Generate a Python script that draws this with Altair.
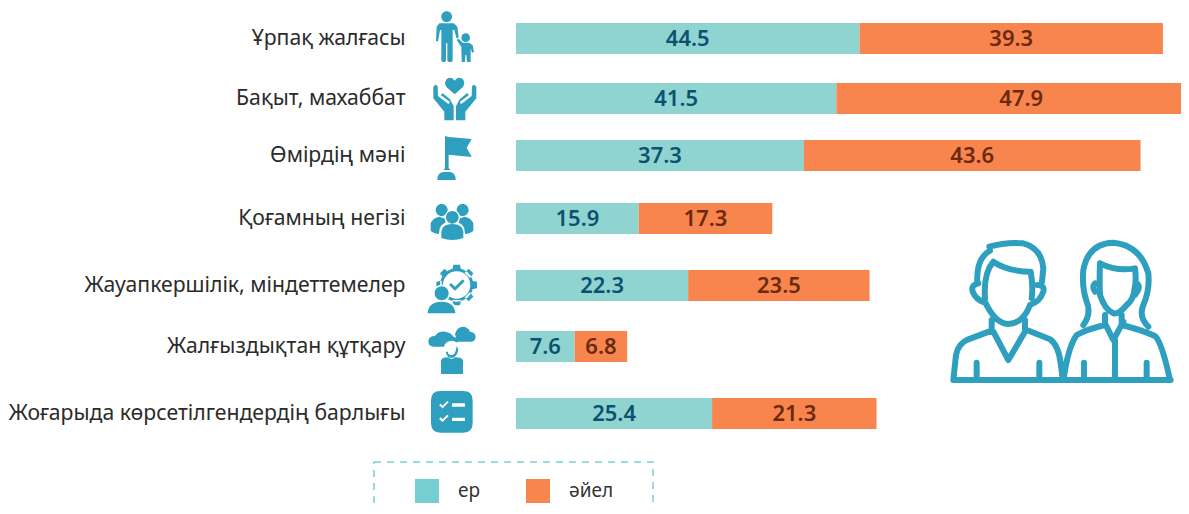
import json, re
import altair as alt
import pandas as pd

categories = ["Ұрпақ жалғасы", "Бақыт, махаббат", "Өмірдің мәні", "Қоғамның негізі",
              "Жауапкершілік, міндеттемелер", "Жалғыздықтан құтқару",
              "Жоғарыда көрсетілгендердің барлығы"]
men = [44.5, 41.5, 37.3, 15.9, 22.3, 7.6, 25.4]
women = [39.3, 47.9, 43.6, 17.3, 23.5, 6.8, 21.3]
series = ["ер", "әйел"]

row_range = [30.5, 90.5, 147.5, 210.5, 277.5, 338.5, 405.5]
FONT = "Noto Sans"
TEAL = "#2E9FBF"
VIEW_W = 665


def shift(d, ox, oy):
    i = [0]
    def rep(m):
        v = float(m.group(0)) - (ox if i[0] % 2 == 0 else oy)
        i[0] += 1
        return f"{v:g}"
    return re.sub(r"-?\d+\.?\d*", rep, d)


def circle(cx, cy, r):
    k = 0.5523 * r
    return (f"M{cx-r} {cy} C{cx-r} {cy-k} {cx-k} {cy-r} {cx} {cy-r} "
            f"C{cx+k} {cy-r} {cx+r} {cy-k} {cx+r} {cy} "
            f"C{cx+r} {cy+k} {cx+k} {cy+r} {cx} {cy+r} "
            f"C{cx-k} {cy+r} {cx-r} {cy+k} {cx-r} {cy} Z ")


def poly(*pts):
    return "M" + " L".join(f"{x} {y}" for x, y in pts) + " Z "


def mirror(pts, total):
    return [(total - x, y) for x, y in pts]


def gear_teeth():
    # teeth of the cog icon, listed as squares around its hub
    return (poly((160, 44), (180, 44), (183, 60), (157, 60)) +
            poly((160, 166), (180, 166), (183, 150), (157, 150)) +
            poly((109, 95), (109, 115), (125, 118), (125, 92)) +
            poly((231, 95), (231, 115), (215, 118), (215, 92)) +
            poly((120, 70), (134, 56), (146, 68), (130, 84)) +
            poly((220, 70), (206, 56), (194, 68), (210, 84)) +
            poly((206, 154), (220, 140), (210, 126), (194, 142)))


hand_outer = [(100, 260), (106, 254), (113, 258), (114, 288), (145, 312), (150, 306), (122, 285),
              (128, 280), (150, 298), (161, 318), (161, 361), (133, 361), (133, 335), (100, 295)]

back = [
    circle(140, 50, 16) + circle(197, 113, 13) +
    poly((118, 70), (162, 70), (172, 80), (176, 112), (170, 116), (163, 90), (158, 90), (158, 182),
         (154, 186), (146, 186), (142, 182), (142, 130), (138, 130), (138, 182), (134, 186),
         (128, 186), (124, 182), (124, 90), (120, 90), (114, 125), (108, 122), (110, 80)) +
    poly((170, 120), (176, 116), (188, 128), (207, 128), (218, 136), (222, 156), (216, 158),
         (212, 145), (212, 186), (201, 186), (199, 165), (196, 165), (195, 186), (185, 186),
         (184, 140)),
    "M164 283 L140 262 Q130 250 140 237 Q155 228 164 242 Q173 228 188 237 Q198 250 188 262 Z " +
    poly(*hand_outer) + poly(*mirror(hand_outer, 329)),
    poly((135, 408), (146, 411), (215, 417), (200, 443), (215, 471), (146, 464), (146, 505),
         (152, 510), (130, 510), (135, 505)) +
    "M112 540 Q112 518 130 516 L150 516 Q167 518 167 540 Z ",
    circle(125, 630, 18) + circle(188, 630, 18) +
    "M92 693 L92 672 Q95 655 118 650 L136 656 L136 668 Q118 675 118 695 L116 703 Q100 700 92 693 Z " +
    "M220 693 L220 672 Q217 655 194 650 L176 656 L176 668 Q194 675 194 695 L196 703 Q212 700 220 693 Z ",
    circle(170, 105, 50) + gear_teeth(),
    "M100 290 Q84 288 85 273 Q87 258 105 258 Q115 243 135 245 Q155 248 160 260 Q172 262 172 275 "
    "Q170 290 155 290 Z "
    "M165 253 Q170 230 190 230 Q205 232 210 245 Q226 247 227 260 Q226 275 212 275 L172 275 Z ",
    "M121 423 L190 423 Q218 423 218 451 L218 520 Q218 548 190 548 L121 548 Q93 548 93 520 "
    "L93 451 Q93 423 121 423 Z ",
]
gap = [
    "", "", "",
    circle(157, 652, 23),
    circle(170, 105, 41) + circle(125, 130, 26) + "M76 195 Q78 150 125 150 Q172 150 174 195 Z ",
    circle(155, 296, 24),
    poly((117, 466), (122, 461), (128, 467), (142, 453), (146, 457), (128, 475)) +
    poly((117, 507), (122, 502), (128, 508), (142, 494), (146, 498), (128, 516)) +
    poly((156, 460), (195, 460), (195, 470), (156, 470)) +
    poly((156, 503), (195, 503), (195, 513), (156, 513)),
]
front = [
    "", "", "",
    circle(157, 652, 19) +
    "M124 714 L124 695 Q126 672 157 672 Q188 672 190 695 L190 714 Q157 726 124 714 Z ",
    poly((147, 105), (153, 99), (165, 110), (188, 88), (194, 94), (165, 122)) +
    circle(125, 130, 21) + "M83 190 Q85 155 125 155 Q163 155 166 190 Z ",
    "M137 305 Q140 322 155 324 Q172 322 175 298 L170 288 Q167 315 155 316 Q145 315 143 305 Z "
    "M123 372 L123 332 Q125 322 145 322 Q155 332 165 322 Q187 322 189 332 L189 372 Z ",
    "",
]
centres = [(165, 115.5), (165, 295.5), (165, 466.5), (165, 655.5), (165, 106.5), (165, 289.5), (165, 490.5)]


def shapes(lst):
    out = []
    for d, (ox, oy) in zip(lst, centres):
        out.append(shift(d, ox, oy) if d else "M0 0 Z")
    return out


people = (
    "M40 450 L692 450 "
    "M40 450 L48 375 Q55 340 85 328 L155 302 L155 270 "
    "M255 270 L255 298 L330 328 Q355 345 362 400 L368 445 "
    "M160 305 L205 390 L258 300 M110 398 L110 445 M298 398 L298 445 "
    "M148 50 Q200 35 250 40 Q305 55 310 115 L306 155 M150 62 Q108 85 112 160 "
    "M115 160 Q92 165 98 185 Q108 210 135 218 M292 165 Q315 165 310 185 Q300 215 270 225 "
    "M135 205 Q130 130 160 95 Q205 125 272 125 Q280 170 275 205 "
    "M135 215 Q165 280 205 282 Q250 280 270 225 "
    "M372 440 Q385 350 410 315 Q440 298 495 285 L495 255 "
    "M545 255 L545 285 Q600 298 645 318 Q665 335 690 450 "
    "M430 285 Q455 250 440 215 Q425 170 430 120 Q445 40 520 38 Q600 45 625 130 Q630 180 610 225 "
    "Q595 260 625 290 "
    "M480 100 Q530 125 585 115 Q590 150 583 180 Q580 210 560 225 Q535 255 520 250 Q495 240 480 195 "
    "Q478 150 480 100 "
    "M465 160 Q455 170 465 185 M590 160 Q605 170 585 195 "
    "M495 280 L520 330 L550 275 M525 330 L525 445 M432 398 L432 445 M620 398 L620 445"
)

rows = []
for i, c in enumerate(categories):
    rows.append({"row": i, "cat": c, "s": series[0], "o": 0, "v": men[i]})
    rows.append({"row": i, "cat": c, "s": series[1], "o": 1, "v": women[i]})
df = pd.DataFrame(rows)
icons = pd.DataFrame({"row": list(range(7)), "cat": categories})

xs = alt.Scale(domain=[0, VIEW_W / 7.72], range=[0, VIEW_W], nice=False, zero=False, padding=0)
ys = alt.Scale(domain=list(range(7)), range=row_range, nice=False, zero=False, padding=0)
Y = alt.Y("row:Q", scale=ys, axis=alt.Axis(
    values=list(range(7)), title=None, ticks=False, domain=False, grid=False, labelPadding=111,
    labelFont=FONT, labelFontSize=21.2, labelColor="#2B2B2B", labelLimit=500, labelOverlap=False,
    labelExpr=f"{json.dumps(categories, ensure_ascii=False)}[datum.value]"))

stack = alt.Chart(df).transform_stack(stack="v", groupby=["row"], sort=[alt.SortField("o")], as_=["a", "b"])

bars = stack.mark_bar(height=31, clip=True).encode(
    x=alt.X("a:Q", scale=xs, axis=None), x2="b:Q", y=Y,
    color=alt.Color("s:N", scale=alt.Scale(domain=series, range=["#8FD4D0", "#F8854D"]), legend=None))

labels = stack.transform_calculate(c="(datum.a+datum.b)/2").mark_text(
    font=FONT, fontSize=22, fontWeight=600).encode(
    x=alt.X("c:Q", scale=xs, axis=None), y=Y, text=alt.Text("v:Q", format=".1f"),
    color=alt.Color("s:N", scale=alt.Scale(domain=series, range=["#0B5270", "#6B2A0F"]), legend=None))


def icon_layer(lst, color):
    return alt.Chart(icons).mark_point(filled=True, opacity=1, size=4 / 9, color=color, strokeWidth=0).encode(
        x=alt.value(455 - 516), y=Y,
        shape=alt.Shape("cat:N", scale=alt.Scale(domain=categories, range=shapes(lst)), legend=None))


box = alt.Chart(icons.head(1)).mark_rect(
    filled=False, stroke="#7AD0D4", strokeWidth=1.5, strokeDash=[7, 6]).encode(
    x=alt.value(374 - 516), x2=alt.value(653 - 516), y=alt.value(462 - 8), y2=alt.value(540))

big = alt.Chart(icons.head(1)).mark_point(
    filled=False, opacity=1, size=4 / 9, shape=people, stroke=TEAL, strokeWidth=6,
    strokeCap="round", strokeJoin="round").encode(
    x=alt.value(940 - 516), y=alt.value(230 - 8))

legend_layer = alt.Chart(df).transform_filter("false").mark_square(opacity=1).encode(
    color=alt.Color("s:N", scale=alt.Scale(domain=series, range=["#76CED3", "#F8854D"]),
                    title=None,
                    legend=alt.Legend(orient="none", legendX=415 - 516, legendY=479 - 8,
                                      direction="horizontal", symbolType="square", symbolSize=576,
                                      symbolStrokeWidth=0, labelFont=FONT, labelFontSize=19,
                                      labelColor="#333333", labelOffset=19, columnPadding=45,
                                      padding=0, symbolOpacity=1)))

chart = alt.layer(bars, labels, icon_layer(back, TEAL), icon_layer(gap, "white"),
                  icon_layer(front, TEAL), box, big, legend_layer).resolve_scale(
    color="independent", shape="independent"
).properties(
    width=VIEW_W, height=498, padding={"left": 508, "top": 0, "right": 0, "bottom": 0},
    autosize=alt.AutoSizeParams(type="none"), background="white"
).configure_view(stroke=None)

chart.save("out.html", embed_options={"renderer": "svg", "actions": False})
